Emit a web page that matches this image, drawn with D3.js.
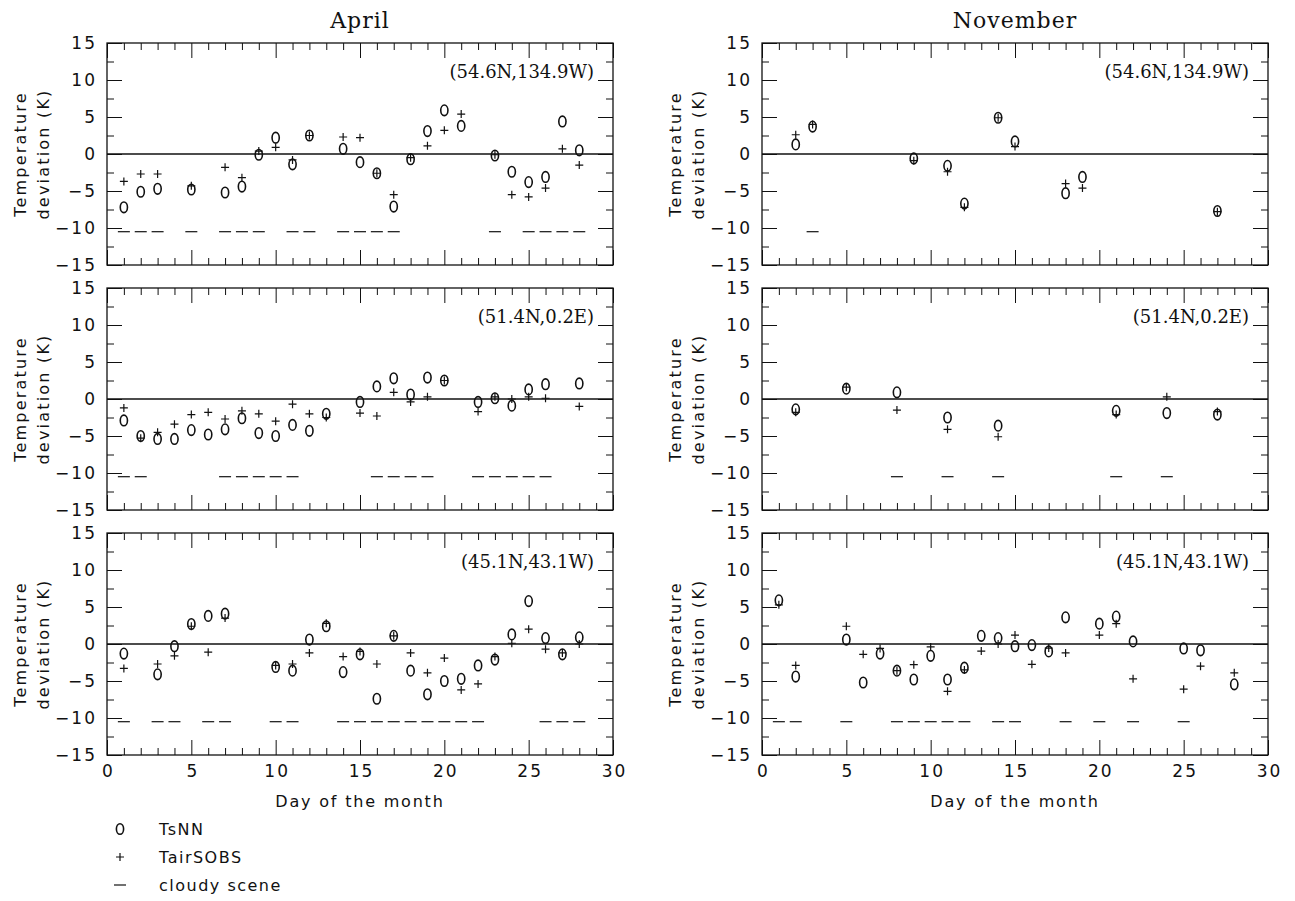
<!DOCTYPE html>
<html>
<head>
<meta charset="utf-8">
<script src="https://cdn.jsdelivr.net/npm/d3@7"></script>
<style>
  body { margin: 0; background: #fff; }
</style>
</head>
<body>
<svg id="chart" width="1295" height="901"></svg>
<script>
// ---- data (days, TsNN, TairSOBS, cloudy days) ----
// April, (54.6N,134.9W)
var aprA_days   = [1, 2, 3, 5, 7, 8, 9, 10, 11, 12, 14, 15, 16, 17, 18, 19, 20, 21, 23, 24, 25, 26, 27, 28];
var aprA_tsnn   = [-7.2, -5.1, -4.7, -4.8, -5.2, -4.4, -0.1, 2.2, -1.4, 2.5, 0.7, -1.1, -2.6, -7.1, -0.7, 3.1, 5.9, 3.8, -0.2, -2.4, -3.8, -3.1, 4.4, 0.5];
var aprA_tair   = [-3.7, -2.7, -2.7, -4.3, -1.8, -3.2, 0.4, 0.9, -0.8, 2.5, 2.3, 2.2, -2.6, -5.5, -0.5, 1.1, 3.2, 5.4, -0.1, -5.5, -5.8, -4.6, 0.7, -1.5];
var aprA_cloudy = [1, 2, 3, 5, 7, 8, 9, 11, 12, 14, 15, 16, 17, 23, 25, 26, 27, 28];

// April, (51.4N,0.2E)
var aprB_days   = [1, 2, 3, 4, 5, 6, 7, 8, 9, 10, 11, 12, 13, 15, 16, 17, 18, 19, 20, 22, 23, 24, 25, 26, 28];
var aprB_tsnn   = [-2.9, -5.0, -5.4, -5.4, -4.2, -4.8, -4.1, -2.6, -4.6, -5.0, -3.5, -4.3, -2.0, -0.4, 1.7, 2.8, 0.6, 2.9, 2.5, -0.4, 0.1, -0.9, 1.3, 2.0, 2.1];
var aprB_tair   = [-1.2, -5.3, -4.5, -3.4, -2.1, -1.8, -2.7, -1.6, -2.0, -3.0, -0.7, -2.0, -2.5, -1.9, -2.3, 0.9, -0.4, 0.3, 2.5, -1.7, 0.3, 0.0, 0.3, 0.1, -1.0];
var aprB_cloudy = [1, 2, 7, 8, 9, 10, 11, 16, 17, 18, 19, 22, 23, 24, 25, 26];

// April, (45.1N,43.1W)
var aprC_days   = [1, 3, 4, 5, 6, 7, 10, 11, 12, 13, 14, 15, 16, 17, 18, 19, 20, 21, 22, 23, 24, 25, 26, 27, 28];
var aprC_tsnn   = [-1.3, -4.1, -0.3, 2.7, 3.8, 4.1, -3.1, -3.6, 0.6, 2.4, -3.8, -1.4, -7.4, 1.1, -3.6, -6.8, -5.0, -4.7, -2.9, -2.1, 1.3, 5.8, 0.8, -1.4, 0.9];
var aprC_tair   = [-3.3, -2.7, -1.6, 2.4, -1.1, 3.5, -2.9, -2.7, -1.2, 2.8, -1.7, -1.0, -2.7, 1.1, -1.2, -3.9, -1.9, -6.2, -5.4, -1.7, 0.1, 2.0, -0.7, -1.2, 0.0];
var aprC_cloudy = [1, 3, 4, 6, 7, 10, 11, 14, 15, 16, 17, 18, 19, 20, 21, 22, 26, 27, 28];

// November, (54.6N,134.9W)
var novA_days   = [2, 3, 9, 11, 12, 14, 15, 18, 19, 27];
var novA_tsnn   = [1.3, 3.7, -0.6, -1.6, -6.7, 4.9, 1.7, -5.3, -3.1, -7.7];
var novA_tair   = [2.6, 4.0, -0.9, -2.4, -7.2, 4.9, 1.0, -4.0, -4.6, -7.8];
var novA_cloudy = [3];

// November, (51.4N,0.2E)
var novB_days   = [2, 5, 8, 11, 14, 21, 24, 27];
var novB_tsnn   = [-1.4, 1.4, 0.9, -2.5, -3.6, -1.6, -1.9, -2.1];
var novB_tair   = [-1.8, 1.6, -1.5, -4.1, -5.1, -2.1, 0.3, -1.7];
var novB_cloudy = [8, 11, 14, 21, 24];

// November, (45.1N,43.1W)
var novC_days   = [1, 2, 5, 6, 7, 8, 9, 10, 11, 12, 13, 14, 15, 16, 17, 18, 20, 21, 22, 25, 26, 28];
var novC_tsnn   = [5.9, -4.4, 0.6, -5.2, -1.3, -3.6, -4.8, -1.6, -4.8, -3.2, 1.1, 0.8, -0.3, -0.15, -1.0, 3.6, 2.75, 3.7, 0.35, -0.6, -0.85, -5.45];
var novC_tair   = [5.3, -2.9, 2.4, -1.4, -0.6, -3.6, -2.8, -0.4, -6.4, -3.5, -0.95, 0.0, 1.2, -2.75, -0.55, -1.2, 1.2, 2.75, -4.7, -6.1, -3.0, -3.9];
var novC_cloudy = [1, 2, 5, 8, 9, 10, 11, 12, 14, 15, 18, 20, 22, 25];

var months = ["April", "November"];
var legendLabels = ["TsNN", "TairSOBS", "cloudy scene"];
var xTickValues = [0, 5, 10, 15, 20, 25, 30];
var yTickValues = [-15, -10, -5, 0, 5, 10, 15];

var CLOUDY_Y = -10.5;

// ---- layout ----
var colX = [[107, 613], [762, 1268]],
    rowY = [[43, 265], [288, 510], [533, 755]],
    ink = "#111",
    sansFont = "'DejaVu Sans', sans-serif",
    serifFont = "'DejaVu Serif', serif";

var panels = [
    {col: 0, row: 0, label: "(54.6N,134.9W)", days: aprA_days, tsnn: aprA_tsnn, tair: aprA_tair, cloudy: aprA_cloudy},
    {col: 0, row: 1, label: "(51.4N,0.2E)",   days: aprB_days, tsnn: aprB_tsnn, tair: aprB_tair, cloudy: aprB_cloudy},
    {col: 0, row: 2, label: "(45.1N,43.1W)",  days: aprC_days, tsnn: aprC_tsnn, tair: aprC_tair, cloudy: aprC_cloudy},
    {col: 1, row: 0, label: "(54.6N,134.9W)", days: novA_days, tsnn: novA_tsnn, tair: novA_tair, cloudy: novA_cloudy},
    {col: 1, row: 1, label: "(51.4N,0.2E)",   days: novB_days, tsnn: novB_tsnn, tair: novB_tair, cloudy: novB_cloudy},
    {col: 1, row: 2, label: "(45.1N,43.1W)",  days: novC_days, tsnn: novC_tsnn, tair: novC_tair, cloudy: novC_cloudy}
];

var svg = d3.select("#chart");

// marker drawers
function drawCircle(sel) {
    sel.append("ellipse").attr("rx", 3.6).attr("ry", 5.3)
       .attr("fill", "none").attr("stroke", ink).attr("stroke-width", 1.6);
}
function drawPlus(sel) {
    sel.append("path").attr("d", "M-4,0H4M0,-4V4")
       .attr("fill", "none").attr("stroke", ink).attr("stroke-width", 1.2);
}
function drawDash(sel) {
    sel.append("path").attr("d", "M-6,0H6")
       .attr("fill", "none").attr("stroke", ink).attr("stroke-width", 1.2);
}

function styleAxis(g) {
    g.select(".domain").remove();
    g.selectAll(".tick line").attr("stroke", ink).attr("stroke-width", 1);
    g.selectAll(".tick text")
     .attr("fill", ink)
     .style("font-family", sansFont)
     .style("font-size", "17px")
     .style("letter-spacing", "2px");
}

panels.forEach(function(p) {
    var x = d3.scaleLinear().domain([0, 30]).range(colX[p.col]),
        y = d3.scaleLinear().domain([-15, 15]).range([rowY[p.row][1], rowY[p.row][0]]),
        g = svg.append("g").attr("class", "panel"),
        minorX = d3.range(0, 31).filter(function(d) { return d % 5 !== 0; }),
        minorY = [-12.5, -7.5, -2.5, 2.5, 7.5, 12.5],
        showX = p.row === 2;

    // minor ticks, all sides
    g.append("g").attr("transform", "translate(0," + y(-15) + ")")
     .call(d3.axisBottom(x).tickValues(minorX).tickSize(-7).tickFormat("")).call(styleAxis);
    g.append("g").attr("transform", "translate(0," + y(15) + ")")
     .call(d3.axisTop(x).tickValues(minorX).tickSize(-7).tickFormat("")).call(styleAxis);
    g.append("g").attr("transform", "translate(" + x(0) + ",0)")
     .call(d3.axisLeft(y).tickValues(minorY).tickSize(-7).tickFormat("")).call(styleAxis);
    g.append("g").attr("transform", "translate(" + x(30) + ",0)")
     .call(d3.axisRight(y).tickValues(minorY).tickSize(-7).tickFormat("")).call(styleAxis);

    // major ticks
    var bottomAxis = g.append("g").attr("transform", "translate(0," + y(-15) + ")")
     .call(d3.axisBottom(x).tickValues(xTickValues).tickSize(-15).tickPadding(10)
             .tickFormat(showX ? d3.format("d") : "")).call(styleAxis);
    // letter-spacing adds trailing space, nudge centred labels back
    bottomAxis.selectAll(".tick text").attr("dx", 1);
    g.append("g").attr("transform", "translate(0," + y(15) + ")")
     .call(d3.axisTop(x).tickValues(xTickValues).tickSize(-15).tickFormat("")).call(styleAxis);
    g.append("g").attr("transform", "translate(" + x(0) + ",0)")
     .call(d3.axisLeft(y).tickValues(yTickValues).tickSize(-15).tickPadding(10)).call(styleAxis);
    g.append("g").attr("transform", "translate(" + x(30) + ",0)")
     .call(d3.axisRight(y).tickValues(yTickValues).tickSize(-15).tickFormat("")).call(styleAxis);

    // frame
    g.append("rect")
     .attr("x", x(0)).attr("y", y(15))
     .attr("width", x(30) - x(0)).attr("height", y(-15) - y(15))
     .attr("fill", "none").attr("stroke", ink).attr("stroke-width", 1.3);

    // zero line
    g.append("line")
     .attr("x1", x(0)).attr("x2", x(30)).attr("y1", y(0)).attr("y2", y(0))
     .attr("stroke", ink).attr("stroke-width", 1.3);

    // location label
    g.append("text")
     .attr("x", x(30) - 19).attr("y", y(15) + 35)
     .attr("text-anchor", "end")
     .style("font-family", serifFont).style("font-size", "18px")
     .attr("fill", ink)
     .text(p.label);

    // y label
    var cy = (y(15) + y(-15)) / 2;
    var yl = g.append("text")
     .attr("transform", "translate(" + (x(0) - 81) + "," + cy + ") rotate(-90)")
     .attr("text-anchor", "middle")
     .style("font-family", sansFont).style("font-size", "16px").style("letter-spacing", "2.2px")
     .attr("fill", ink);
    yl.append("tspan").attr("x", 0).attr("dy", 0).text("Temperature");
    yl.append("tspan").attr("x", 0).attr("dy", 23).text("deviation (K)");

    // cloudy dashes
    g.selectAll(".cloudy").data(p.cloudy).enter()
     .append("g").attr("class", "cloudy")
     .attr("transform", function(d) { return "translate(" + x(d) + "," + y(CLOUDY_Y) + ")"; })
     .call(drawDash);

    // TsNN circles
    g.selectAll(".tsnn").data(p.days).enter()
     .append("g").attr("class", "tsnn")
     .attr("transform", function(d, i) { return "translate(" + x(d) + "," + y(p.tsnn[i]) + ")"; })
     .call(drawCircle);

    // TairSOBS plus signs
    g.selectAll(".tair").data(p.days).enter()
     .append("g").attr("class", "tair")
     .attr("transform", function(d, i) { return "translate(" + x(d) + "," + y(p.tair[i]) + ")"; })
     .call(drawPlus);

    if (showX) {
        g.append("text")
         .attr("x", (x(0) + x(30)) / 2).attr("y", y(-15) + 52)
         .attr("text-anchor", "middle")
         .style("font-family", sansFont).style("font-size", "16px").style("letter-spacing", "1.8px")
         .attr("fill", ink)
         .text("Day of the month");
    }
    if (p.row === 0) {
        g.append("text")
         .attr("x", (x(0) + x(30)) / 2).attr("y", 28)
         .attr("text-anchor", "middle")
         .style("font-family", serifFont).style("font-size", "22px").style("letter-spacing", "1px")
         .attr("fill", ink)
         .text(months[p.col]);
    }
});

// legend
var legend = svg.append("g").attr("class", "legend");
var legendMarkers = [drawCircle, drawPlus, drawDash];
legendLabels.forEach(function(lbl, i) {
    var ly = 829 + i * 28;
    legend.append("g").attr("transform", "translate(120," + ly + ")").call(legendMarkers[i]);
    legend.append("text")
     .attr("x", 159).attr("y", ly + 6)
     .style("font-family", sansFont).style("font-size", "16px").style("letter-spacing", "1.5px")
     .attr("fill", ink)
     .text(lbl);
});
</script>
</body>
</html>
